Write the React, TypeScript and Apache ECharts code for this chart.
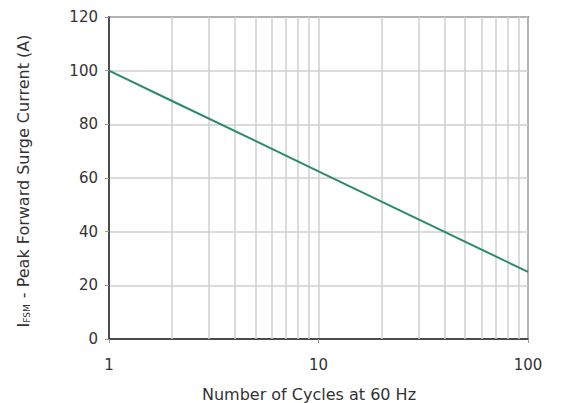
import React, { useEffect, useRef } from "react";
import * as echarts from "echarts";

const cycles = [1, 2, 5, 10, 20, 50, 100];
const surgeCurrent = [100, 88.7, 73.8, 62.5, 51.2, 36.3, 25];
const minorGrid = [2, 3, 4, 5, 6, 7, 8, 9, 20, 30, 40, 50, 60, 70, 80, 90];
const yTicks = [0, 20, 40, 60, 80, 100, 120];
const xTitle = "Number of Cycles at 60 Hz";
const yTitleMain = " - Peak Forward Surge Current (A)";

export default function App() {
  const ref = useRef<HTMLDivElement>(null);
  useEffect(() => {
    document.body.style.margin = "0";
    const chart = echarts.init(ref.current!, null, { renderer: "svg" });
    const font = "'DejaVu Sans', sans-serif";
    chart.setOption({
      animation: false,
      backgroundColor: "#fff",
      grid: {
        left: 109,
        right: 33,
        top: 17,
        bottom: 64,
        show: true,
        borderColor: "#2a2a2a",
        borderWidth: 1.5,
        backgroundColor: "transparent",
      },
      xAxis: {
        type: "log",
        logBase: 10,
        min: 1,
        max: 100,
        axisLine: { show: true, lineStyle: { color: "#2a2a2a", width: 1.5 } },
        axisTick: { show: true, length: 4, lineStyle: { color: "#999" } },
        axisLabel: {
          color: "#333",
          fontSize: 15,
          fontFamily: font,
          margin: 18,
        },
        splitLine: { show: true, lineStyle: { color: "#cfcfcf", width: 1.5 } },
      },
      yAxis: {
        type: "value",
        min: yTicks[0],
        max: yTicks[yTicks.length - 1],
        interval: 20,
        axisLine: { show: true, lineStyle: { color: "#2a2a2a", width: 1.5 } },
        axisTick: { show: true, length: 4, lineStyle: { color: "#999" } },
        axisLabel: {
          color: "#333",
          fontSize: 15,
          fontFamily: font,
          margin: 11,
        },
        splitLine: { show: true, lineStyle: { color: "#cfcfcf", width: 1.5 } },
      },
      graphic: [
        {
          type: "text",
          x: 309,
          y: 394,
          style: {
            text: xTitle,
            align: "center",
            verticalAlign: "middle",
            fill: "#333",
            fontFamily: font,
            fontSize: 16,
          },
        },
        {
          type: "text",
          x: 21,
          y: 181,
          rotation: Math.PI / 2,
          style: {
            text: "{m|I}{s|FSM}{m|" + yTitleMain + "}",
            align: "center",
            verticalAlign: "middle",
            fill: "#333",
            fontFamily: font,
            rich: {
              m: { fontSize: 16, fontFamily: font, fill: "#333", lineHeight: 20, verticalAlign: "bottom" },
              s: { fontSize: 9, fontFamily: font, fill: "#333", lineHeight: 13, verticalAlign: "bottom", padding: [0, 1, 0, 0] },
            },
          },
        },
      ],
      series: [
        {
          type: "line",
          data: cycles.map((c, i) => [c, surgeCurrent[i]]),
          symbol: "none",
          lineStyle: { color: "#2b8a6c", width: 2 },
          z: 5,
          markLine: {
            silent: true,
            symbol: "none",
            label: { show: false },
            lineStyle: { color: "#cfcfcf", width: 1.5, type: "solid" },
            data: minorGrid.map((v) => ({ xAxis: v })),
          },
        },
      ],
    });
    return () => chart.dispose();
  }, []);
  return <div ref={ref} style={{ width: 561, height: 403 }} />;
}
